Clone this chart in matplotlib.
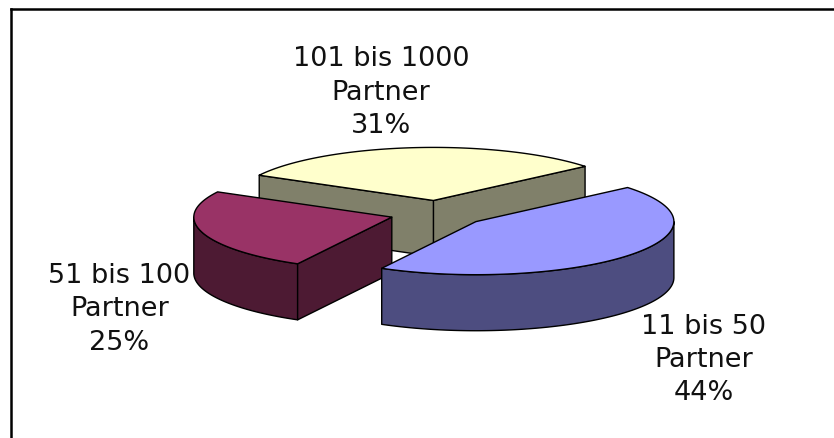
'''exploded 3d-style pie chart, drawn with flat polygons'''
import numpy as np
import matplotlib
matplotlib.use('Agg')
import matplotlib.pyplot as plt
from matplotlib.patches import Polygon
from matplotlib.lines import Line2D

labels = ['11 bis 50\nPartner', '51 bis 100\nPartner', '101 bis 1000\nPartner']
shares = [44, 25, 31]
top_colors = ['#9999FF', '#993366', '#FFFFCC']
side_colors = ['#4D4D80', '#4D1A33', '#80806A']

# layout of the fake 3d pie, in units of the pie radius
first_angle = 40.0   # degrees ccw from 3 o'clock, slices run clockwise from here
squash = 0.268       # vertical radius of the top ellipse
depth = 0.283        # thickness of the pie
explode = 0.245
label_pos = [(1.34, -0.74), (-1.61, -0.485), (-0.29, 0.61)]


def rim(cx, cy, t, dz=0.0):
    '''points on the rim of a slice centred at cx, cy'''
    return np.column_stack([cx + np.cos(t), cy + squash * np.sin(t) - dz])


def draw_slice(ax, t1, t2, top, side):
    mid = (t1 + t2) / 2
    cx = explode * np.cos(mid)
    cy = explode * squash * np.sin(mid)
    kw = dict(edgecolor='black', linewidth=1.0, joinstyle='round', zorder=2)
    c_top = np.array([[cx, cy]])
    c_bot = np.array([[cx, cy - depth]])

    # outer wall, only the front half is visible
    for k in (-1, 0, 1):
        lo = max(t1, np.pi + 2 * np.pi * k)
        hi = min(t2, 2 * np.pi + 2 * np.pi * k)
        if hi > lo:
            t = np.linspace(lo, hi, 120)
            pts = np.vstack([rim(cx, cy, t), rim(cx, cy, t[::-1], depth)])
            ax.add_patch(Polygon(pts, closed=True, facecolor=side, **kw))

    # cut faces facing the viewer
    for t, visible in ((t1, np.cos(t1) > 0), (t2, np.cos(t2) < 0)):
        if visible:
            tt = np.array([t])
            pts = np.vstack([c_top, rim(cx, cy, tt), rim(cx, cy, tt, depth), c_bot])
            ax.add_patch(Polygon(pts, closed=True, facecolor=side, **kw))

    # top face
    t = np.linspace(t1, t2, 200)
    pts = np.vstack([c_top, rim(cx, cy, t)])
    ax.add_patch(Polygon(pts, closed=True, facecolor=top, **kw))


fig = plt.figure(figsize=(8.34, 4.38), dpi=100)
ax = fig.add_axes([0, 0, 1, 1])
ax.set_xlim(-2.2136, 1.9985)
ax.set_ylim(-1.1343, 1.0778)
ax.axis('off')

total = float(sum(shares))
spans = np.array(shares) / total * 360.0
ends = first_angle - np.concatenate([[0], np.cumsum(spans)[:-1]])
starts = ends - spans
mids = np.radians((starts + ends) / 2)

# paint from back to front
for i in np.argsort(-np.sin(mids)):
    draw_slice(ax, np.radians(starts[i]), np.radians(ends[i]),
               top_colors[i], side_colors[i])

for i, lab in enumerate(labels):
    ax.text(label_pos[i][0], label_pos[i][1], '%s\n%d%%' % (lab, shares[i]),
            ha='center', va='center', fontsize=19.5, linespacing=1.37,
            family='DejaVu Sans', color='#111111', zorder=1)

# chart frame, only top and left edges fall inside the picture
x0 = 11.0 / 834
y0 = 1 - 8.5 / 438
fig.add_artist(Line2D([x0, x0], [-0.01, y0], transform=fig.transFigure,
                      color='black', lw=1.8, solid_capstyle='projecting'))
fig.add_artist(Line2D([x0, 1.01], [y0, y0], transform=fig.transFigure,
                      color='black', lw=1.8, solid_capstyle='projecting'))

fig.savefig('out.png', dpi=100, facecolor='white')
